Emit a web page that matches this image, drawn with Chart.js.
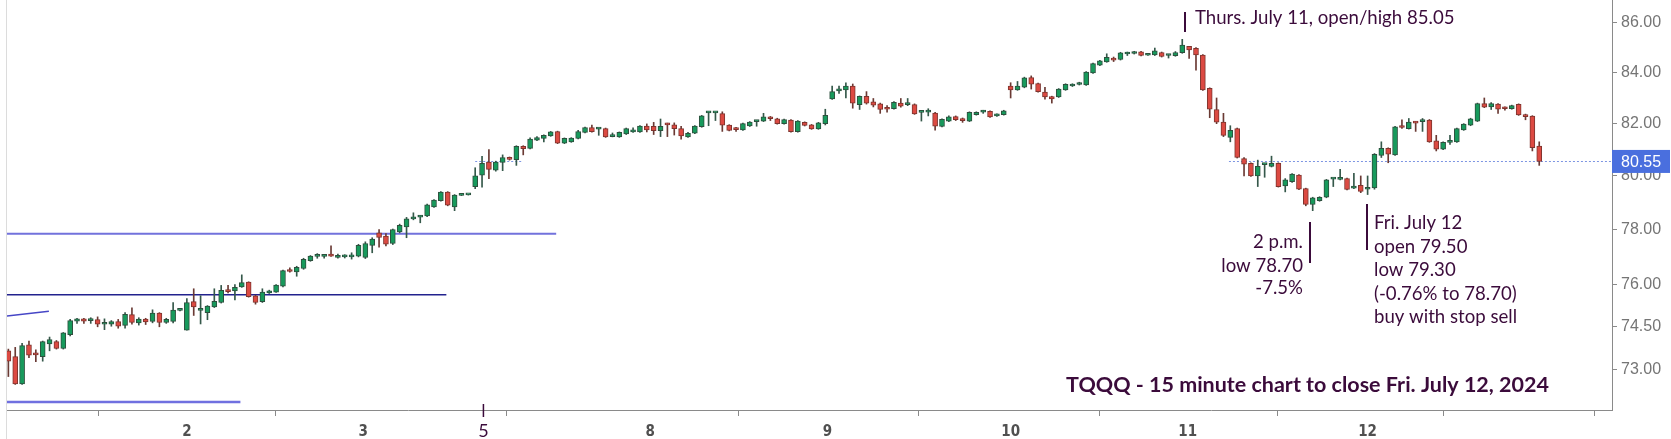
<!DOCTYPE html>
<html>
<head>
<meta charset="utf-8">
<script src="https://cdn.jsdelivr.net/npm/chart.js"></script>
<style>
  body { margin: 0; background: #fff; }
  #wrap { position: relative; width: 1671px; height: 439px; }
</style>
</head>
<body>
<div id="wrap"><canvas id="tqqq" width="1671" height="439"></canvas></div>
<script>
// TQQQ 15 minute candles, July 1 - July 12 2024 (one row per session)
var open = [
  73.66,73.46,72.52,73.87,73.56,73.46,73.90,73.98,73.74,74.22,74.70,74.78,74.72,74.75,74.59,74.59,74.68,74.55,74.93,74.64,74.77,74.69,74.98,74.65,74.69,75.08,
  74.38,75.39,75.08,75.00,75.20,75.36,75.80,75.77,75.92,76.09,75.60,75.39,75.70,75.73,75.94,76.50,76.46,76.58,76.86,77.02,77.02,77.05,76.98,77.00,77.00,77.03,
  76.98,77.42,77.88,77.76,77.49,77.91,78.10,78.39,78.46,78.50,78.84,79.07,79.39,78.84,79.27,79.29,
  79.60,80.03,80.53,80.22,80.51,80.70,80.62,81.13,81.05,81.36,81.43,81.53,81.69,81.25,81.30,81.43,81.66,81.85,81.79,81.81,81.50,81.49,81.60,81.68,81.68,81.91,
  81.90,81.73,82.00,81.95,81.81,81.49,81.63,81.88,82.42,82.42,82.39,81.94,81.80,81.76,81.91,82.08,82.10,82.22,82.19,82.00,82.14,81.69,82.05,81.95,81.80,82.00,
  82.96,83.28,83.32,83.47,82.74,83.06,82.85,82.77,82.59,82.58,82.80,82.74,82.74,82.44,82.45,82.41,81.89,82.10,82.27,82.20,82.10,82.35,82.45,82.48,82.30,82.35,
  83.47,83.32,83.42,83.80,83.57,83.23,83.05,83.04,83.32,83.47,83.53,83.51,83.99,84.30,84.43,84.55,84.52,84.74,84.76,84.83,84.69,84.70,84.80,84.68,84.67,84.79,
  85.05,84.97,84.70,83.38,82.55,82.06,81.47,81.81,80.66,80.48,80.00,80.43,80.36,80.48,79.62,79.78,80.03,79.52,78.93,79.07,79.20,79.88,79.87,79.90,79.54,79.65,
  79.50,79.55,80.78,81.05,80.80,81.87,81.81,82.06,82.08,82.14,81.34,81.02,81.28,81.30,81.76,81.94,82.10,82.78,82.65,82.76,82.60,82.58,82.75,82.35,82.29,81.14
];
var high = [
  73.72,73.78,73.92,74.00,73.69,74.00,74.14,74.02,74.30,74.76,74.80,74.80,74.82,74.85,74.78,74.72,74.76,75.00,75.17,74.82,74.80,75.10,75.00,74.80,75.36,75.10,
  75.50,75.85,75.60,75.25,75.85,75.97,75.97,76.00,76.35,76.10,75.62,75.85,75.80,76.00,76.52,76.60,76.66,76.95,77.05,77.12,77.05,77.40,77.10,77.08,77.15,77.46,
  77.55,77.70,78.00,77.85,78.02,78.20,78.45,78.62,78.52,78.94,79.11,79.41,79.41,79.30,79.30,79.31,
  80.31,80.74,81.00,80.56,80.80,80.72,81.15,81.15,81.45,81.50,81.57,81.70,81.71,81.45,81.46,81.74,81.87,81.94,81.83,81.83,81.64,81.68,81.83,81.84,81.93,81.99,
  82.05,82.18,82.02,82.03,81.90,81.66,81.93,82.32,82.46,82.46,82.46,81.96,81.86,82.02,82.08,82.12,82.40,82.28,82.21,82.18,82.16,82.12,82.07,81.97,82.05,82.56,
  83.47,83.47,83.60,83.55,83.08,83.25,82.98,82.80,82.70,82.86,82.98,82.98,82.77,82.47,82.58,82.44,82.19,82.30,82.30,82.22,82.46,82.46,82.52,82.50,82.38,82.52,
  83.60,83.65,83.82,83.87,83.59,83.42,83.07,83.37,83.56,83.56,83.62,84.04,84.38,84.49,84.75,84.62,84.81,84.82,84.85,84.85,84.72,84.98,84.82,84.72,84.84,85.33,
  85.05,85.00,84.72,83.40,83.00,82.40,81.92,81.83,80.70,80.50,80.60,80.46,80.75,80.50,79.90,80.09,80.05,79.54,79.20,79.22,79.87,79.92,80.25,79.92,80.10,80.00,
  80.00,80.85,81.30,81.07,81.90,82.15,82.20,82.08,82.20,82.16,81.55,81.30,81.55,81.83,82.00,82.21,82.80,83.00,82.82,82.78,82.65,82.72,82.77,82.37,82.31,81.30
];
var low = [
  72.77,72.50,72.50,73.42,73.28,73.30,73.66,73.72,73.72,74.18,74.62,74.62,74.62,74.50,74.40,74.52,74.45,74.45,74.59,74.56,74.58,74.64,74.50,74.62,74.64,75.06,
  74.38,74.90,74.60,74.75,75.18,75.34,75.70,75.45,75.90,75.55,75.30,75.36,75.68,75.72,75.92,76.45,76.30,76.55,76.84,76.95,76.95,77.02,76.95,76.96,76.92,77.00,
  76.94,77.15,77.35,77.40,77.45,77.88,77.70,78.36,78.25,78.48,78.82,79.05,78.88,78.70,79.26,79.28,
  79.52,79.58,79.90,80.18,80.20,80.60,80.40,80.80,81.03,81.34,81.30,81.51,81.23,81.23,81.28,81.41,81.64,81.67,81.55,81.47,81.49,81.47,81.58,81.66,81.66,81.68,
  81.58,81.50,81.50,81.56,81.40,81.47,81.61,81.86,81.92,82.12,81.70,81.72,81.70,81.74,81.89,81.90,82.08,82.12,81.98,81.98,81.67,81.67,81.91,81.78,81.78,81.95,
  82.94,83.18,83.00,82.60,82.55,82.76,82.65,82.40,82.45,82.56,82.64,82.70,82.36,82.10,82.30,81.75,81.87,82.08,82.12,82.05,82.08,82.33,82.40,82.24,82.28,82.33,
  83.00,83.30,83.40,83.35,83.23,82.95,82.80,83.02,83.30,83.45,83.51,83.49,83.97,84.28,84.41,84.44,84.50,84.68,84.74,84.66,84.68,84.68,84.62,84.58,84.65,84.77,
  84.56,84.10,83.30,82.23,82.00,81.50,81.30,80.68,80.00,79.98,79.60,79.95,80.34,79.58,79.40,79.76,79.48,78.88,78.70,79.05,79.18,79.60,79.85,79.47,79.52,79.37,
  79.30,79.50,80.70,80.50,80.78,81.82,81.79,81.70,81.70,81.28,80.95,81.00,81.20,81.28,81.74,81.92,82.08,82.62,82.55,82.40,82.52,82.56,82.32,82.15,80.95,80.40
];
var close = [
  73.30,72.52,73.84,73.51,73.52,73.98,74.05,73.74,74.29,74.72,74.78,74.70,74.73,74.59,74.64,74.68,74.52,74.94,74.65,74.77,74.67,74.98,74.65,74.76,75.09,75.09,
  75.36,75.20,75.12,75.23,75.40,75.79,75.75,75.90,76.07,75.57,75.36,75.73,75.78,75.98,76.50,76.47,76.62,76.91,77.03,77.06,77.03,77.03,77.06,77.04,77.05,77.42,
  77.49,77.65,77.71,77.46,78.00,78.16,78.40,78.47,78.50,78.92,79.09,79.39,78.90,79.28,79.28,79.30,
  80.00,80.48,80.25,80.53,80.70,80.63,81.13,81.04,81.40,81.46,81.55,81.68,81.25,81.43,81.44,81.69,81.85,81.69,81.81,81.49,81.52,81.66,81.81,81.70,81.91,81.76,
  81.73,81.90,81.95,81.81,81.53,81.63,81.91,82.30,82.44,82.44,81.94,81.74,81.77,82.00,82.06,82.10,82.26,82.19,82.00,82.16,81.69,82.10,81.93,81.80,82.03,82.32,
  83.25,83.30,83.47,82.80,83.06,82.80,82.72,82.55,82.56,82.83,82.68,82.76,82.38,82.46,82.48,81.90,82.17,82.26,82.15,82.12,82.44,82.44,82.47,82.26,82.36,82.50,
  83.32,83.47,83.79,83.54,83.25,83.04,82.96,83.35,83.54,83.54,83.55,84.02,84.36,84.47,84.61,84.50,84.79,84.76,84.83,84.68,84.71,84.87,84.64,84.71,84.80,85.10,
  84.90,84.70,83.32,82.56,82.06,81.55,81.74,80.70,80.45,80.00,80.36,80.45,80.48,79.60,79.85,80.07,79.50,78.93,79.18,79.20,79.85,79.90,79.89,79.49,79.56,79.42,
  79.55,80.82,81.05,80.83,81.88,81.85,82.06,82.02,82.10,81.30,81.02,81.28,81.30,81.81,81.98,82.19,82.78,82.64,82.78,82.56,82.58,82.70,82.34,82.27,81.08,80.55
];

// day labels on the time axis (candle index where the label sits)
var dayTickAt = [26, 51.7, 93.5, 119.3, 146, 171.8, 198, 220];
var dayTickText = ['2', '3', '8', '9', '10', '11', '12', ' '];
var priceTicks = [73, 74.5, 76, 78, 80, 82, 84, 86];
var lastPrice = 80.55;

var UP_FILL = '#179a5c', UP_LINE = '#2d4f3d', UP_WICK = '#35584a';
var DN_FILL = '#dc4a42', DN_LINE = '#7e342e', DN_WICK = '#6a3a34';
var NOTE = '#3b0b3b';

var idx = open.map(function (v, i) { return i; });
function isUp(i) { return close[i] >= open[i]; }

// hand drawn guide lines: [index, price] -> [index, price]
var guides = [
  { a: [-1, 77.85], b: [79.8, 77.85], color: '#7272dc', width: 2 },
  { a: [-1, 75.64], b: [63.8, 75.64], color: '#22228e', width: 1.5 },
  { a: [-0.2, 74.88], b: [5.9, 75.05], color: '#4646c6', width: 1.5 },
  { a: [-1, 71.9], b: [33.8, 71.9], color: '#7070e0', width: 2.5 }
];
var lastDots = [[68, 74.9], [177.8, 240]];

var notes = {
  id: 'notes',
  beforeDatasetsDraw: function (chart) {
    var ctx = chart.ctx, x = chart.scales.x, y = chart.scales.y, a = chart.chartArea;
    ctx.save();
    ctx.beginPath();
    ctx.rect(a.left, a.top, a.right - a.left, a.bottom - a.top);
    ctx.clip();
    guides.forEach(function (g) {
      ctx.strokeStyle = g.color;
      ctx.lineWidth = g.width;
      ctx.beginPath();
      ctx.moveTo(x.getPixelForValue(g.a[0]), y.getPixelForValue(g.a[1]));
      ctx.lineTo(x.getPixelForValue(g.b[0]), y.getPixelForValue(g.b[1]));
      ctx.stroke();
    });
    ctx.strokeStyle = '#7d95e2';
    ctx.lineWidth = 1;
    ctx.setLineDash([2, 2]);
    var py = Math.round(y.getPixelForValue(lastPrice)) + 0.5;
    lastDots.forEach(function (d) {
      ctx.beginPath();
      ctx.moveTo(x.getPixelForValue(d[0]), py);
      ctx.lineTo(x.getPixelForValue(d[1]), py);
      ctx.stroke();
    });
    ctx.restore();
  },
  afterDraw: function (chart) {
    var ctx = chart.ctx, x = chart.scales.x, y = chart.scales.y, a = chart.chartArea;
    ctx.save();
    // last price tag
    var py = y.getPixelForValue(lastPrice);
    ctx.fillStyle = '#4a6fde';
    ctx.fillRect(a.right, py - 11.5, 58, 23);
    ctx.fillStyle = '#fff';
    ctx.font = '16px "Liberation Sans", Arial, sans-serif';
    ctx.textBaseline = 'middle';
    ctx.fillText(lastPrice.toFixed(2), a.right + 9, py + 1);

    // markers and notes
    ctx.fillStyle = NOTE;
    ctx.fillRect(1184, 12, 2, 20);
    ctx.fillRect(1309, 222, 2, 41);
    ctx.fillRect(1366, 204, 2, 46);
    ctx.textBaseline = 'alphabetic';
    ctx.font = '18.6px Lato, "Open Sans", sans-serif';
    ctx.textAlign = 'left';
    ctx.fillText('Thurs. July 11, open/high 85.05', 1195, 24);
    ctx.textAlign = 'right';
    ctx.fillText('2 p.m.', 1303, 248);
    ctx.fillText('low 78.70', 1303, 271.5);
    ctx.fillText('-7.5%', 1303, 294);
    ctx.textAlign = 'left';
    ['Fri. July 12', 'open 79.50', 'low 79.30', '(-0.76% to 78.70)', 'buy with stop sell'].forEach(function (t, k) {
      ctx.fillText(t, 1374, 229 + k * 23.6);
    });
    ctx.font = 'bold 21.5px Lato, "Open Sans", sans-serif';
    ctx.fillText('TQQQ - 15 minute chart to close Fri. July 12, 2024', 1066, 392);

    // July 5 label, written in by hand
    var x5 = x.getPixelForValue(69.2);
    ctx.fillRect(x5 - 0.75, a.bottom - 6, 1.5, 13);
    ctx.font = '18px Lato, "Open Sans", sans-serif';
    ctx.textAlign = 'center';
    ctx.fillText('5', x5, 437);

    // faint frame edges
    ctx.fillStyle = '#dcdcdc';
    ctx.fillRect(6, 0, 1, 439);
    ctx.restore();
  }
};

var ctx = document.getElementById('tqqq');
var chart = new Chart(ctx, {
  type: 'bar',
  data: {
    datasets: [{
      label: 'body',
      data: idx.map(function (i) { return { x: i, y: [open[i], close[i]] }; }),
      backgroundColor: idx.map(function (i) { return isUp(i) ? UP_FILL : DN_FILL; }),
      borderColor: idx.map(function (i) { return isUp(i) ? UP_LINE : DN_LINE; }),
      borderWidth: 1,
      borderSkipped: false,
      barThickness: 5,
      minBarLength: 2,
      grouped: false,
      order: 0
    }, {
      label: 'wick',
      data: idx.map(function (i) {
        return { x: i, y: [Math.min(low[i], open[i], close[i]), Math.max(high[i], open[i], close[i])] };
      }),
      backgroundColor: idx.map(function (i) { return isUp(i) ? UP_WICK : DN_WICK; }),
      barThickness: 1,
      grouped: false,
      order: 1
    }]
  },
  options: {
    responsive: false,
    animation: false,
    devicePixelRatio: 1,
    layout: { padding: { left: 7, top: 0, right: 0, bottom: 0 } },
    plugins: { legend: { display: false }, tooltip: { enabled: false } },
    scales: {
      x: {
        type: 'linear',
        min: -0.2,
        max: 233.6,
        offset: false,
        afterFit: function (s) { s.height = 29; s.paddingLeft = 0; s.paddingRight = 0; },
        afterBuildTicks: function (s) { s.ticks = dayTickAt.map(function (v) { return { value: v }; }); },
        ticks: {
          autoSkip: false,
          maxRotation: 0,
          padding: 7,
          color: '#505050',
          font: { family: '"Liberation Sans Narrow", "DejaVu Sans Condensed", Arial, sans-serif', size: 15, weight: 'bold' },
          callback: function (v, i) { return dayTickText[i]; }
        },
        grid: { drawOnChartArea: false, tickLength: 6, color: '#8a8a8a' },
        border: { color: '#8a8a8a' }
      },
      y: {
        type: 'logarithmic',
        position: 'right',
        bounds: 'data',
        min: 71.63,
        max: 86.93,
        afterFit: function (s) { s.width = 59; s.paddingTop = 0; s.paddingBottom = 0; },
        afterBuildTicks: function (s) { s.ticks = priceTicks.map(function (v) { return { value: v }; }); },
        ticks: {
          autoSkip: false,
          padding: 4,
          color: '#757575',
          font: { family: '"Liberation Sans", Arial, sans-serif', size: 16 },
          callback: function (v) { return Number(v).toFixed(2); }
        },
        grid: { drawOnChartArea: false, tickLength: 5, color: '#8a8a8a' },
        border: { color: '#8a8a8a' }
      }
    }
  },
  plugins: [notes]
});
</script>
</body>
</html>
